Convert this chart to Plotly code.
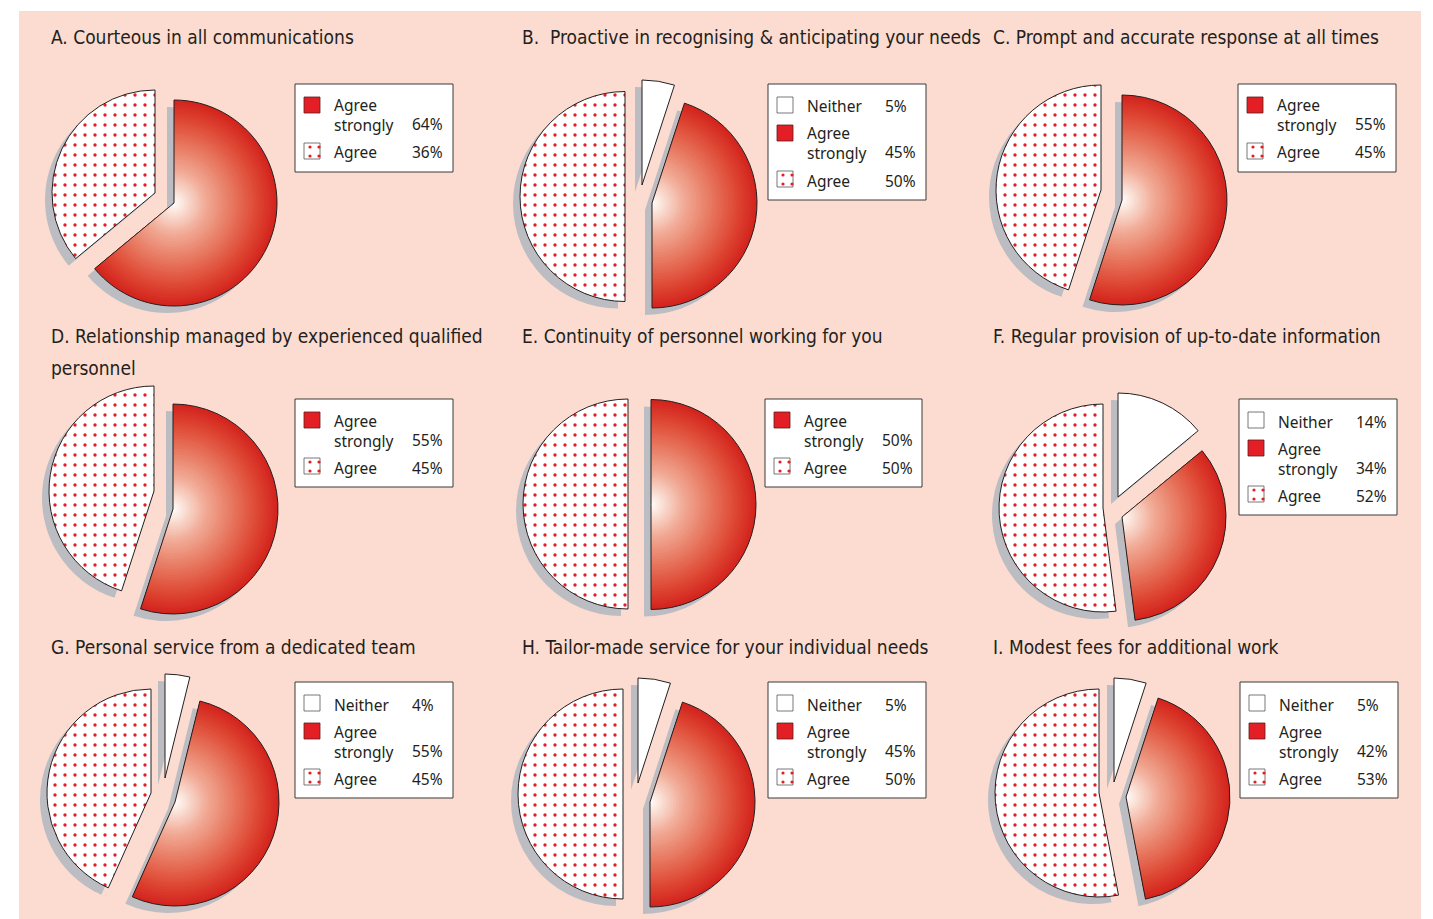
import plotly.graph_objects as go

W, H = 1433, 919

# ---------------- data ----------------
chart_titles = [
    "A. Courteous in all communications",
    "B.  Proactive in recognising &amp; anticipating your needs",
    "C. Prompt and accurate response at all times",
    "D. Relationship managed by experienced qualified<br>personnel",
    "E. Continuity of personnel working for you",
    "F. Regular provision of up-to-date information",
    "G. Personal service from a dedicated team",
    "H. Tailor-made service for your individual needs",
    "I. Modest fees for additional work",
]
category_labels = ["Neither", "Agree strongly", "Agree"]
legend_labels = ["Neither", "Agree<br>strongly", "Agree"]
neither_pct = [0, 5, 0, 0, 0, 14, 4, 5, 5]
agree_strongly_pct = [64, 45, 55, 55, 50, 34, 55, 45, 42]
agree_pct = [36, 50, 45, 45, 50, 52, 45, 50, 53]

# ---------------- layout / styling (pixel positions) ----------------
panels = [
    dict(title=(51, 37), r=103, apex={"s": (174, 203), "a": (155, 193)}, box=(295, 84, 158)),
    dict(title=(522, 37), r=105, apex={"n": (642, 185), "s": (652, 203), "a": (625, 196.5)}, box=(768, 84, 158)),
    dict(title=(993, 37), r=105, apex={"s": (1122, 200), "a": (1101, 190)}, box=(1238, 84, 158)),
    dict(title=(51, 336), r=105, apex={"s": (173, 509), "a": (154, 491)}, box=(295, 399, 158)),
    dict(title=(522, 336), r=105, apex={"s": (651, 504.5), "a": (628, 504)}, box=(765, 399, 157)),
    dict(title=(993, 336), r=104, apex={"n": (1118, 497), "s": (1122, 517), "a": (1103, 508)}, box=(1239, 399, 158)),
    dict(title=(51, 647), r=104, apex={"n": (165, 778), "s": (175, 802), "a": (151, 793)}, box=(295, 682, 158)),
    dict(title=(522, 647), r=105, apex={"n": (638, 783), "s": (650, 802), "a": (623, 794)}, box=(768, 682, 158)),
    dict(title=(993, 647), r=104, apex={"n": (1114, 782), "s": (1126, 797), "a": (1099, 793)}, box=(1240, 682, 158)),
]

PANEL_BG = "#fcdcd0"
RED = "#e31e24"
SHADOW = "#bcbdc2"
INK = "#231f20"
TRANSP = "rgba(0,0,0,0)"
SHADOW_DX, SHADOW_DY = -7, 7
N_LAYERS = 40
TITLE_LINE_GAP = 32
LEG_LINE_GAP = 20
TITLE_FONT = dict(family="DejaVu Sans Condensed, Liberation Sans Narrow, Arial Narrow, sans-serif",
                  size=19, color=INK)
LEG_FONT = dict(family="Noto Sans, Open Sans, sans-serif", size=15.5, color=INK)

GRAD_STOPS = [
    (0.0, (255, 252, 250)),
    (0.1, (250, 226, 216)),
    (0.3, (241, 172, 152)),
    (0.55, (232, 122, 98)),
    (0.8, (222, 72, 52)),
    (1.0, (211, 34, 28)),
]


def grad_color(t):
    t = max(0.0, min(1.0, t))
    for (t0, c0), (t1, c1) in zip(GRAD_STOPS[:-1], GRAD_STOPS[1:]):
        if t <= t1:
            f = (t - t0) / (t1 - t0) if t1 > t0 else 0
            c = [round(a + (b - a) * f) for a, b in zip(c0, c1)]
            return f"rgb({c[0]},{c[1]},{c[2]})"
    c = GRAD_STOPS[-1][1]
    return f"rgb({c[0]},{c[1]},{c[2]})"


def px_x(x):
    return x / W


def px_y(y):
    return 1 - y / H


def pie(values, labels, colors, cx, cy, r, widths=0, pattern=None):
    marker = dict(colors=colors, line=dict(color=INK, width=widths))
    if pattern is not None:
        marker["pattern"] = pattern
    return go.Pie(
        values=values, labels=labels, sort=False, direction="clockwise", rotation=0,
        domain=dict(x=[px_x(cx - r), px_x(cx + r)], y=[px_y(cy + r), px_y(cy - r)]),
        marker=marker, textinfo="none", hoverinfo="skip", showlegend=False,
    )


fig = go.Figure()
shapes = []
annotations = []

# pink panel background
shapes.append(dict(type="rect", xref="paper", yref="paper", x0=px_x(19), x1=px_x(1421),
                   y0=px_y(919), y1=px_y(11), fillcolor=PANEL_BG, line=dict(width=0), layer="below"))

for i, p in enumerate(panels):
    keys, vals, labs, leg = [], [], [], []
    for k, v, lab, lg in zip(["n", "s", "a"], [neither_pct[i], agree_strongly_pct[i], agree_pct[i]],
                             category_labels, legend_labels):
        if v > 0:
            keys.append(k)
            vals.append(v)
            labs.append(lab)
            leg.append(lg)
    n = len(vals)
    R = p["r"]

    # shadows
    for j, k in enumerate(keys):
        ax, ay = p["apex"][k]
        cols = [SHADOW if jj == j else TRANSP for jj in range(n)]
        fig.add_trace(pie(vals, labs, cols, ax + SHADOW_DX, ay + SHADOW_DY, R))

    # slices
    for j, k in enumerate(keys):
        ax, ay = p["apex"][k]
        widths = [1 if jj == j else 0 for jj in range(n)]
        if k == "n":
            cols = ["#ffffff" if jj == j else TRANSP for jj in range(n)]
            fig.add_trace(pie(vals, labs, cols, ax, ay, R, widths))
        elif k == "a":
            cols = ["#ffffff" if jj == j else TRANSP for jj in range(n)]
            pat = dict(shape=["." if jj == j else "" for jj in range(n)], fgcolor=RED, fgopacity=1,
                       fillmode="overlay", size=10, solidity=0.09)
            fig.add_trace(pie(vals, labs, cols, ax, ay, R, widths, pat))
        else:
            for L in range(N_LAYERS):
                rk = R * (1 - L / N_LAYERS)
                t = (rk - R / (2 * N_LAYERS)) / R
                cols = [grad_color(t) if jj == j else TRANSP for jj in range(n)]
                fig.add_trace(pie(vals, labs, cols, ax, ay, rk))
            cols = [TRANSP] * n
            fig.add_trace(pie(vals, labs, cols, ax, ay, R, widths))

    # title (each line placed separately to match the wide line spacing)
    tx, ty = p["title"]
    for li, line in enumerate(chart_titles[i].split("<br>")):
        annotations.append(dict(text=line, x=px_x(tx - 2), y=px_y(ty + li * TITLE_LINE_GAP),
                                xref="paper", yref="paper", xanchor="left", yanchor="middle",
                                align="left", showarrow=False, font=TITLE_FONT))

    # legend box
    bx, by, bw = p["box"]
    y = 22
    prev_lines = 0
    for k, v, lg in zip(keys, vals, leg):
        nlines = lg.count("<br>") + 1
        if prev_lines:
            y += 28 if prev_lines == 1 else 26
        prev_lines = nlines
        top = y
        last = top + (nlines - 1) * LEG_LINE_GAP
        shift = -1 if nlines > 1 else 0
        annotations.append(dict(text=lg, x=px_x(bx + 37), y=px_y(by + (top + last) / 2 + 0.5 + shift),
                                xref="paper", yref="paper", xanchor="left", yanchor="middle",
                                align="left", showarrow=False, font=LEG_FONT))
        annotations.append(dict(text=f"{v}%", x=px_x(bx + 115), y=px_y(by + last + 0.5 + 2 * shift),
                                xref="paper", yref="paper", xanchor="left", yanchor="middle",
                                showarrow=False, font=LEG_FONT))
        y = last
        # swatch
        sx0, sy0 = bx + 9, by + top - 9
        if k == "s":
            shapes.append(dict(type="rect", xref="paper", yref="paper", x0=px_x(sx0), x1=px_x(sx0 + 16),
                               y0=px_y(sy0 + 16), y1=px_y(sy0), fillcolor=RED,
                               line=dict(color="#5a2020", width=0.8)))
        else:
            shapes.append(dict(type="rect", xref="paper", yref="paper", x0=px_x(sx0), x1=px_x(sx0 + 16),
                               y0=px_y(sy0 + 16), y1=px_y(sy0), fillcolor="#ffffff",
                               line=dict(color="#555555", width=0.8)))
            if k == "a":
                for dx in (6, 15):
                    for dy in (4, 13):
                        shapes.append(dict(type="circle", xref="paper", yref="paper",
                                           x0=px_x(sx0 + dx - 1.6), x1=px_x(sx0 + dx + 1.6),
                                           y0=px_y(sy0 + dy + 1.6), y1=px_y(sy0 + dy - 1.6),
                                           fillcolor=RED, line=dict(width=0)))
    bh = y + 20
    shapes.insert(1, dict(type="rect", xref="paper", yref="paper", x0=px_x(bx), x1=px_x(bx + bw),
                          y0=px_y(by + bh), y1=px_y(by), fillcolor="#ffffff",
                          line=dict(color="#3a3a3a", width=1), layer="below"))

fig.update_layout(
    width=W, height=H, autosize=False,
    margin=dict(l=0, r=0, t=0, b=0),
    paper_bgcolor="#ffffff", plot_bgcolor="#ffffff",
    shapes=shapes, annotations=annotations, showlegend=False,
)

fig.write_html("out.html")
